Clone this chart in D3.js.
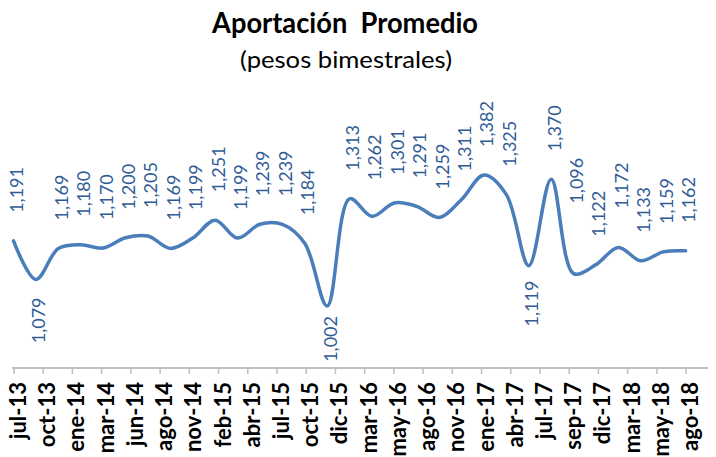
<!DOCTYPE html>
<html><head><meta charset="utf-8">
<script src="https://cdn.jsdelivr.net/npm/d3@7"></script>
<style>html,body{margin:0;padding:0;background:#fff;}svg{display:block;}</style>
</head><body>
<script>
// ---- data ----
const title = "Aportación  Promedio";
const subtitle = "(pesos bimestrales)";
const axisLabels = ["jul-13","oct-13","ene-14","mar-14","jun-14","ago-14","nov-14","feb-15","abr-15","jul-15","oct-15","dic-15","mar-16","may-16","ago-16","nov-16","ene-17","abr-17","jul-17","sep-17","dic-17","mar-18","may-18","ago-18"];
const values = [1191,1079,1169,1180,1170,1200,1205,1169,1199,1251,1199,1239,1239,1184,1002,1313,1262,1301,1291,1259,1311,1382,1325,1119,1370,1096,1122,1172,1133,1159,1162];
const belowIdx = [1,14,23];
// label nudges (layout only)
const nudge = {14:-8, 23:-3, 16:8, 25:42, 27:11};

const W = 716, H = 457;
const svg = d3.select("body").append("svg").attr("width", W).attr("height", H);

const x = d3.scaleLinear().domain([0, 31]).range([13.5, 708]);
const y = d3.scaleLinear().domain([1002, 1382]).range([306, 175]);
const axisY = 368;

// title
svg.append("text").attr("x", 345).attr("y", 33).attr("text-anchor", "middle")
  .attr("font-family", "Lato, 'Open Sans', sans-serif").attr("font-weight", 700)
  .attr("font-size", 28).attr("fill", "#000")
  .attr("textLength", 266).attr("lengthAdjust", "spacingAndGlyphs")
  .style("white-space", "pre").text(title);
svg.append("text").attr("x", 346).attr("y", 68).attr("text-anchor", "middle")
  .attr("font-family", "Lato, 'Open Sans', sans-serif").attr("font-weight", 400)
  .attr("font-size", 24).attr("fill", "#000")
  .attr("textLength", 212).attr("lengthAdjust", "spacingAndGlyphs")
  .text(subtitle);

// x axis
const tickVals = axisLabels.map((d, i) => i * (values.length - 1) / (axisLabels.length - 1));
const axis = d3.axisBottom(x).tickValues(tickVals)
  .tickFormat((d, i) => axisLabels[i]).tickSizeInner(6).tickSizeOuter(0);
const gAxis = svg.append("g").attr("transform", `translate(0,${axisY})`).call(axis);
gAxis.select(".domain").attr("stroke", "#bfbfbf").attr("stroke-width", 2)
  .attr("d", `M${x(0) - 1.5},0H${x(31)}`);
gAxis.selectAll(".tick line").attr("stroke", "#bfbfbf").attr("stroke-width", 1.5);
gAxis.selectAll(".tick text")
  .attr("font-family", "Lato, 'Open Sans', sans-serif").attr("font-weight", 700)
  .attr("font-size", 22).attr("fill", "#000")
  .attr("text-anchor", "end").attr("dy", null).attr("y", null)
  .attr("transform", "translate(12,14) rotate(-90)");

// line
const line = d3.line().x((d, i) => x(i)).y(d => y(d)).curve(d3.curveCatmullRom.alpha(0.5));
svg.append("path").datum(values).attr("d", line)
  .attr("fill", "none").attr("stroke", "#4a7ebb").attr("stroke-width", 3.5)
  .attr("stroke-linejoin", "round").attr("stroke-linecap", "round");

// data labels
const fmt = d3.format(",");
svg.append("g").selectAll("text").data(values).join("text")
  .attr("font-family", "Lato, 'Open Sans', sans-serif").attr("font-size", 18)
  .attr("fill", "#2f5b96")
  .attr("text-anchor", (d, i) => belowIdx.includes(i) ? "end" : "start")
  .attr("transform", (d, i) => {
    const px = x(i) + 9.5, py = y(d);
    const n = nudge[i] || 0;
    const ty = belowIdx.includes(i) ? py + 18 + n : py - 28 - n;
    return `translate(${px},${ty}) rotate(-90)`;
  })
  .text(d => fmt(d));
</script>
</body></html>
